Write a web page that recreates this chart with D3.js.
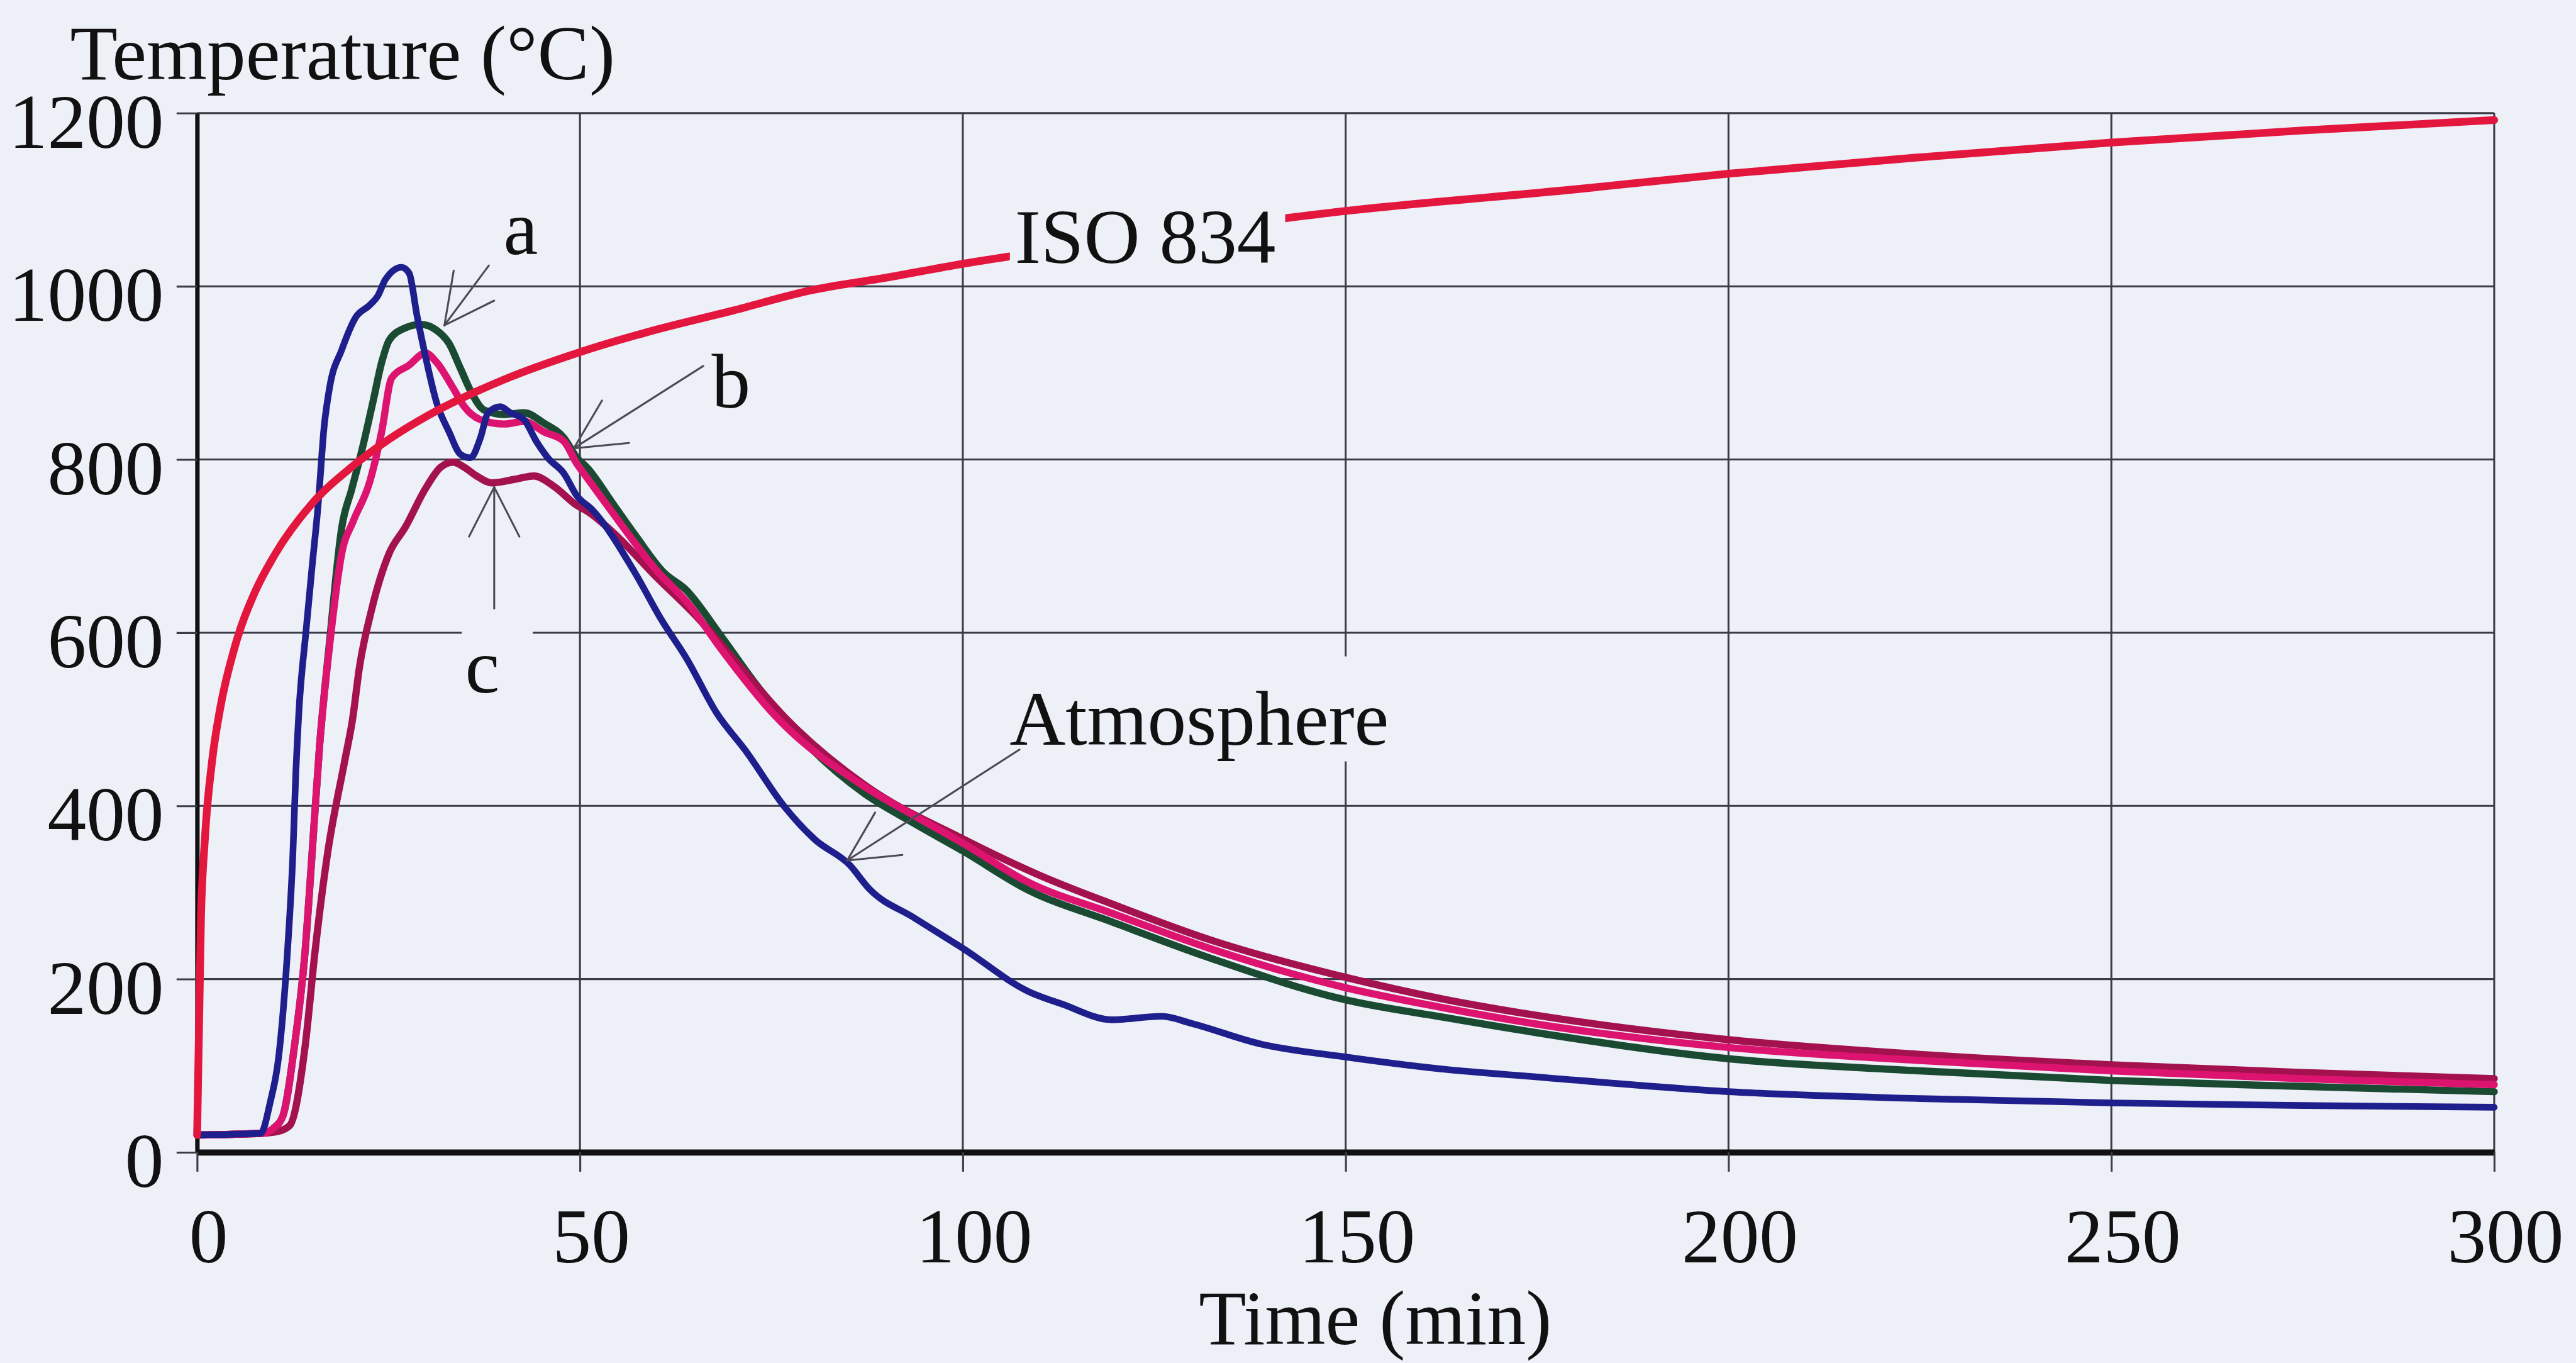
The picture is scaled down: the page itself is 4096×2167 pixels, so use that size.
<!DOCTYPE html>
<html>
<head>
<meta charset="utf-8">
<title>Temperature vs time</title>
<script src="https://cdn.jsdelivr.net/npm/d3@7"></script>
<style>
  html, body { margin: 0; padding: 0; background: #eef0f8; overflow: hidden; }
  svg { display: block; }
</style>
</head>
<body>
<svg id="chart"></svg>
<script>
// ---- Data -------------------------------------------------------------
const xTickValues = [0, 50, 100, 150, 200, 250, 300];
const yTickValues = [0, 200, 400, 600, 800, 1000, 1200];

// ISO 834 standard fire curve
const isoTime = [0, 0.5, 1, 2, 3, 5, 7.5, 10, 15, 20, 25, 30, 40, 50, 60, 70, 80, 90, 100, 120, 150, 180, 200, 225, 250, 275, 300];
const isoTemp = [20, 270, 360, 455, 512, 586, 646, 688, 749, 790, 823, 850, 892, 924, 950, 972, 995, 1010, 1026, 1052, 1087, 1112, 1130, 1149, 1166, 1180, 1192];

// Atmosphere (gas) temperature
const atmTime = [0, 8.3, 9.5, 10.8, 11.8, 12.5, 12.9, 13.3, 14.2, 15.0, 15.8, 16.6, 17.3, 18.9, 20.7, 22.5, 23.6, 24.6, 26.7, 27.7, 28.7, 29.8, 31.3, 32.9, 34.4, 35.7, 37.0, 38.0, 39.6, 40.9, 42.7, 44.3, 45.8, 47.9, 49.6, 51.6, 57.2, 60.5, 64.0, 67.8, 71.7, 76.8, 80.7, 85.2, 87.8, 93.6, 100.1, 108.5, 113, 119.5, 126, 129.8, 138.9, 150, 162.7, 175, 200, 225, 250, 275, 300];
const atmTemp = [20, 22, 56, 122, 232, 343, 440, 510, 600, 675, 747, 839, 883, 927, 964, 978, 989, 1008, 1022, 1015, 967, 920, 865, 832, 806, 802, 825, 854, 861, 854, 846, 821, 802, 784, 758, 742, 669, 617, 569, 508, 463, 398, 361, 332, 304, 271, 235, 186, 171, 153, 157, 149, 125, 110, 96, 87, 70, 62, 57, 54, 52];

// Curve a
const aTime = [0, 8.5, 10.0, 11.2, 12.7, 14.1, 15.0, 16.0, 17.3, 18.9, 20.2, 21.5, 23.0, 24.1, 25.1, 27.2, 29.2, 31.3, 32.9, 34.4, 35.9, 37.5, 40.1, 42.7, 45.3, 47.9, 49.6, 51.0, 54.3, 57.2, 61.0, 63.8, 68.2, 72.6, 80, 87.2, 93.6, 100, 108.5, 119.5, 132.4, 150, 162.7, 175, 200, 225, 250, 275, 300];
const aTemp = [20, 22, 28, 42, 122, 232, 343, 470, 590, 722, 766, 810, 868, 912, 938, 952, 956, 949, 934, 905, 876, 857, 852, 854, 842, 825, 802, 790, 749, 713, 669, 650, 599, 545, 468, 414, 380, 348, 303, 266, 224, 176, 156, 138, 108, 94, 83, 76, 70];

// Curve b
const bTime = [0, 8.5, 10.0, 11.2, 12.7, 14.1, 15.0, 16.0, 17.3, 18.9, 20.4, 22.5, 24.1, 25.4, 27.7, 29.8, 31.3, 33.4, 34.9, 37.0, 40.1, 42.7, 45.3, 47.9, 49.6, 51.0, 54.3, 59.9, 64.3, 68.2, 75.5, 87.2, 93.6, 100, 108.5, 119.5, 132.4, 150, 162.7, 175, 200, 225, 250, 275, 300];
const bTemp = [20, 22, 28, 42, 122, 232, 343, 470, 585, 692, 729, 773, 832, 894, 909, 923, 912, 883, 861, 846, 841, 844, 832, 821, 795, 778, 738, 673, 632, 584, 504, 422, 389, 357, 312, 276, 235, 190, 167, 148, 121, 106, 94, 85, 78];

// Curve c
const cTime = [0, 8.5, 10.5, 12.1, 14.1, 15.4, 17.0, 19.3, 20.3, 21.2, 22.8, 25.1, 27.2, 29.8, 31.8, 33.4, 34.9, 36.5, 38.5, 41.4, 44.0, 46.6, 49.6, 51.0, 54.3, 59.9, 65.4, 71, 77, 87.2, 100, 110, 120, 132.4, 150, 162.7, 175, 200, 225, 250, 275, 300];
const cTemp = [20, 22, 24, 31, 122, 232, 343, 453, 500, 560, 627, 692, 722, 766, 791, 797, 791, 781, 773, 777, 781, 769, 747, 740, 716, 665, 617, 560, 500, 424, 362, 320, 285, 245, 202, 177, 158, 130, 113, 101, 92, 85];

// Text labels placed at (time, temperature) anchor points
const labelText = ["ISO 834", "a", "b", "c", "Atmosphere"];
const labelAt   = [[106.8, 1027], [40.0, 1037], [67.2, 860], [35.0, 531], [106.1, 471]];
// Leader arrows: [from (near label), to (tip on curve)]
const arrowFrom = [[38.1, 1024], [66.1, 908], [38.8, 628], [107.4, 465]];
const arrowTo   = [[32.3, 955], [49.2, 813], [38.8, 768], [84.9, 337]];

// ---- Layout -------------------------------------------------------------
const W = 4645, H = 2458;
const FONT = "'Liberation Serif', 'Times New Roman', Times, serif";
const BG = "#eef0f8";
const plot = { left: 355, right: 4498, top: 204, bottom: 2078 };

const svg = d3.select("#chart")
  .attr("width", 4096).attr("height", 2167)
  .attr("viewBox", `0 0 ${W} ${H}`);

svg.append("rect").attr("width", W).attr("height", H).attr("fill", BG);

const x = d3.scaleLinear().domain([0, 300]).range([plot.left, plot.right]);
const y = d3.scaleLinear().domain([0, 1200]).range([plot.bottom, plot.top]);

// Grid
const gridColor = "#3c3c48";
const grid = svg.append("g").attr("stroke", gridColor).attr("stroke-width", 3.5);
grid.selectAll("line.gh").data(yTickValues.filter(v => v > 0)).join("line")
  .attr("class", "gh")
  .attr("x1", plot.left).attr("x2", plot.right)
  .attr("y1", d => y(d)).attr("y2", d => y(d));
grid.selectAll("line.gv").data(xTickValues.filter(v => v > 0)).join("line")
  .attr("class", "gv")
  .attr("x1", d => x(d)).attr("x2", d => x(d))
  .attr("y1", plot.top).attr("y2", plot.bottom);

// Axes
const yAxis = d3.axisLeft(y).tickValues(yTickValues).tickFormat(d3.format("d"))
  .tickSize(37).tickSizeOuter(0).tickPadding(23);
const gy = svg.append("g").attr("transform", `translate(${plot.left},0)`).call(yAxis)
  .attr("font-family", FONT).attr("font-size", 140);
gy.select(".domain").attr("stroke", "#111").attr("stroke-width", 8);
gy.selectAll(".tick line").attr("stroke", gridColor).attr("stroke-width", 3.5);
gy.selectAll(".tick text").attr("fill", "#111").attr("dy", 0).attr("y", 62);

const xAxis = d3.axisBottom(x).tickValues(xTickValues).tickFormat(d3.format("d"))
  .tickSize(35).tickSizeOuter(0);
const gx = svg.append("g").attr("transform", `translate(0,${plot.bottom})`).call(xAxis)
  .attr("font-family", FONT).attr("font-size", 140);
gx.selectAll(".tick line").attr("stroke", gridColor).attr("stroke-width", 3.5);
gx.selectAll(".tick text").attr("fill", "#111").attr("dy", 0).attr("y", 198).attr("x", 20);
gx.select(".domain").attr("stroke", "#111").attr("stroke-width", 11);

// Curves
const line = d3.line()
  .x(d => x(d[0])).y(d => y(d[1]))
  .curve(d3.curveMonotoneX);

const series = [
  { time: aTime,   temp: aTemp,   color: "#1b4a32", width: 13 },
  { time: cTime,   temp: cTemp,   color: "#a3124e", width: 13 },
  { time: bTime,   temp: bTemp,   color: "#dc1470", width: 13 },
  { time: atmTime, temp: atmTemp, color: "#1e1f8c", width: 12 },
  { time: isoTime, temp: isoTemp, color: "#e3173e", width: 14 }
];

const curves = svg.append("g").attr("fill", "none")
  .attr("stroke-linejoin", "round").attr("stroke-linecap", "round");
series.forEach(s => {
  curves.append("path")
    .datum(d3.zip(s.time, s.temp))
    .attr("stroke", s.color)
    .attr("stroke-width", s.width)
    .attr("d", line);
});

// Labels (some sit on an opaque box that hides what lies beneath)
const boxPad = { "ISO 834": [9, 17, 0, 0], "c": [6, 60, 0, 0], "Atmosphere": [20, 22, 34, 0] };
const labels = svg.append("g").attr("font-family", FONT).attr("font-size", 140).attr("fill", "#111");
labelText.forEach((txt, i) => {
  const t = labels.append("text")
    .attr("x", x(labelAt[i][0])).attr("y", y(labelAt[i][1]))
    .text(txt);
  const pad = boxPad[txt];
  if (pad) {
    const bb = t.node().getBBox();
    labels.insert("rect", () => t.node())
      .attr("x", bb.x - pad[0]).attr("y", bb.y - pad[2])
      .attr("width", bb.width + pad[0] + pad[1])
      .attr("height", bb.height + pad[2] + pad[3])
      .attr("fill", BG);
  }
});

// Leader arrows with open heads
const arrows = svg.append("g").attr("stroke", "#4a4a55").attr("stroke-width", 3.5)
  .attr("stroke-linecap", "round");
const headLen = 100, headHalf = 27 * Math.PI / 180;
arrowFrom.forEach((from, i) => {
  const to = arrowTo[i];
  const x0 = x(from[0]), y0 = y(from[1]), x1 = x(to[0]), y1 = y(to[1]);
  arrows.append("line").attr("x1", x0).attr("y1", y0).attr("x2", x1).attr("y2", y1);
  const ang = Math.atan2(y0 - y1, x0 - x1);
  [ang - headHalf, ang + headHalf].forEach(a => {
    arrows.append("line")
      .attr("x1", x1).attr("y1", y1)
      .attr("x2", x1 + headLen * Math.cos(a))
      .attr("y2", y1 + headLen * Math.sin(a));
  });
});

// Axis titles
svg.append("text")
  .attr("x", 126).attr("y", 143)
  .attr("font-family", FONT).attr("font-size", 140).attr("fill", "#111")
  .text("Temperature (°C)");
svg.append("text")
  .attr("x", 2480).attr("y", 2424).attr("text-anchor", "middle")
  .attr("font-family", FONT).attr("font-size", 140).attr("fill", "#111")
  .text("Time (min)");
</script>
</body>
</html>
